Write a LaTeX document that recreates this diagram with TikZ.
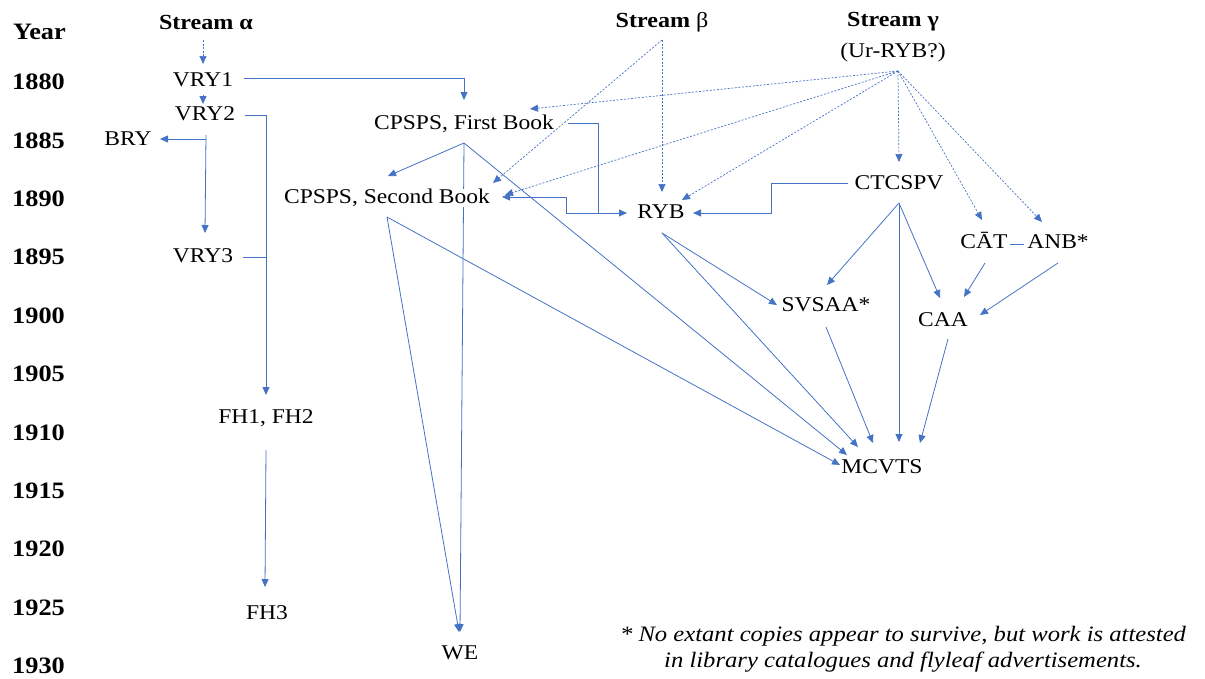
\documentclass[tikz,border=0pt]{standalone}
\usepackage{fontspec}
\setmainfont{Liberation Serif}[FakeStretch=1.12]
\usetikzlibrary{arrows.meta,calc}
\definecolor{lnblue}{HTML}{4472C4}
\pgfdeclarelayer{bg}
\pgfsetlayers{bg,main}
\tikzset{
  lbl/.style={inner sep=0pt,text height=14pt,text depth=4pt,font=\fontsize{21}{25}\selectfont},
  yr/.style={anchor=west,inner sep=0pt,font=\fontsize{23.5}{26}\selectfont\bfseries},
  hdr/.style={inner sep=0pt,font=\fontsize{21.5}{25}\selectfont\bfseries},
  conn/.style={draw=lnblue,line width=0.8pt,-{Triangle[length=8pt,width=7pt]}},
  plain/.style={draw=lnblue,line width=0.8pt},
  dconn/.style={draw=lnblue,line width=0.7pt,dash pattern=on 2pt off 1.6pt,-{Triangle[length=8pt,width=7pt]}}
}
\begin{document}
\begin{tikzpicture}[x=1pt,y=-1pt]
\useasboundingbox (0,0) rectangle (1205,678);
% year column
\node[yr] (year) at (13,32) {Year};
\foreach \yy [count=\i from 0] in {1880,1885,1890,1895,1900,1905,1910,1915,1920,1925,1930}{
  \node[yr] (y\yy) at (12,{82+58.4*\i}) {\yy};
}
% headers
\node[hdr] (sa) at (206,22) {Stream α};
\node[hdr] (sbt) at (662,22) {Stream \textmd{β}};
\node[hdr] (sg) at (893,22) {Stream γ};
\node[lbl] (ur) at (893,52) {(Ur-RYB?)};
% works
\node[lbl] (vry1) at (203,81) {VRY1};
\node[lbl] (vry2) at (205,115) {VRY2};
\node[lbl] (bry) at (128,140) {BRY};
\node[lbl] (vry3) at (203,257) {VRY3};
\node[lbl] (fh12) at (266,418) {FH1, FH2};
\node[lbl] (fh3) at (267,614) {FH3};
\node[lbl,fill=white] (fb) at (464,124) {CPSPS, First Book};
\node[lbl,fill=white] (sbk) at (387,198) {CPSPS, Second Book};
\node[lbl] (we) at (460,654) {WE};
\node[lbl] (ryb) at (661,213) {RYB};
\node[lbl] (ctc) at (899,184) {CTCSPV};
\node[lbl] (svs) at (826,306) {SVSAA*};
\node[lbl] (caa) at (943,321) {CAA};
\node[lbl] (cat) at (984,243) {CĀT};
\node[lbl] (anb) at (1058,243) {ANB*};
\node[lbl] (mc) at (882,468) {MCVTS};
\node[align=center,inner sep=0pt,font=\fontsize{22}{26}\selectfont\itshape] (note) at (903,649)
  {* No extant copies appear to survive, but work is attested\\in library catalogues and flyleaf advertisements.};
% source points
\coordinate (asrc) at ($(sa)+(-3,18)$);
\coordinate (bsrc) at ($(sbt)+(0,18)$);
\coordinate (gsrc) at ($(ur)+(5,19)$);
% stream alpha
\draw[dconn] (asrc) -- ($(vry1)+(0,-17)$);
\draw[conn] ($(vry1)+(0,14)$) -- ($(vry2)+(-2,-11)$);
\coordinate (j0) at ($(vry2)+(1,24)$);
\draw[conn] ($(vry2)+(1,20)$) -- ($(vry3)+(2,-24)$);
\draw[conn] (j0) -- ($(bry)+(32,-1)$);
\coordinate (j2) at (266,257);
\draw[conn] ($(vry2)+(40,0)$) -| ($(fh12)+(0,-23)$);
\draw[plain] ($(vry3)+(40,0)$) -- (j2);
\draw[conn] ($(fh12)+(0,32)$) -- ($(fh3)+(-2,-27)$);
\draw[conn] ($(vry1)+(41,-3)$) -| ($(fb)+(0,-24)$);
% first book
\draw[conn] ($(fb)+(0,19)$) -- ($(sbk)+(1,-22)$);
\begin{pgfonlayer}{bg}
\draw[conn] ($(fb)+(0,19)$) -- ($(we)+(0,-22)$);
\end{pgfonlayer}
\draw[conn] ($(fb)+(0,19)$) -- ($(mc)+(-35,-13)$);
\coordinate (j1) at (598,213);
\draw[conn] ($(fb)+(104,-1)$) -| (j1) -- ($(ryb)+(-34,0)$);
\draw[conn] (j1) -- (566,213) -- (566,197) -- ($(sbk)+(115,-1)$);
% second book
\draw[conn] ($(sbk)+(0,19)$) -- ($(we)+(-1,-22)$);
\draw[conn] ($(sbk)+(0,19)$) -- ($(mc)+(-42,-3)$);
% CTCSPV
\draw[conn] ($(ctc)+(-51,-1)$) -- (771,183) -- (771,213) -- ($(ryb)+(32,0)$);
\draw[conn] ($(ctc)+(0,19)$) -- ($(svs)+(1,-21)$);
\draw[conn] ($(ctc)+(0,19)$) -- ($(caa)+(-3,-23)$);
\draw[conn] ($(ctc)+(0,19)$) -- ($(mc)+(17,-26)$);
% RYB
\draw[conn] ($(ryb)+(1,20)$) -- ($(svs)+(-49,-1)$);
\draw[conn] ($(ryb)+(1,20)$) -- ($(mc)+(-24,-21)$);
% SVSAA, CAA
\draw[conn] ($(svs)+(0,21)$) -- ($(mc)+(-9,-25)$);
\draw[conn] ($(caa)+(5,18)$) -- ($(mc)+(38,-25)$);
\draw[conn] ($(cat)+(1,20)$) -- ($(caa)+(21,-24)$);
\draw[conn] ($(anb)+(0,20)$) -- ($(caa)+(37,-6)$);
\draw[plain] ($(cat)+(26,1)$) -- ($(anb)+(-34,1)$);
% stream beta
\draw[dconn] (bsrc) -- ($(ryb)+(1,-21)$);
\draw[dconn] (bsrc) -- ($(sbk)+(106,-15)$);
% stream gamma
\draw[dconn] (gsrc) -- ($(fb)+(66,-15)$);
\draw[dconn] (gsrc) -- ($(sbk)+(118,-3)$);
\draw[dconn] (gsrc) -- ($(ryb)+(21,-13)$);
\draw[dconn] (gsrc) -- ($(ctc)+(0,-22)$);
\draw[dconn] (gsrc) -- ($(cat)+(-2,-23)$);
\draw[dconn] (gsrc) -- ($(anb)+(-16,-21)$);
\end{tikzpicture}
\end{document}
